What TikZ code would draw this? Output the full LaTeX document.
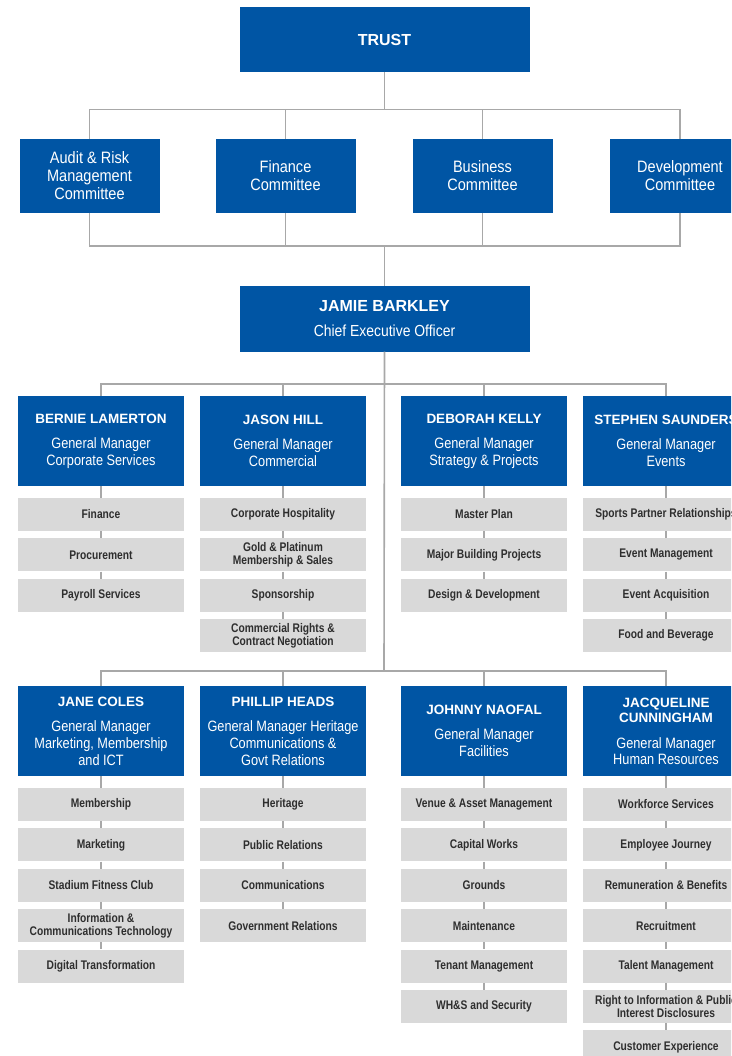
\documentclass[tikz,border=0pt]{standalone}
\usepackage{fontspec}
\setmainfont{Liberation Sans}
\newfontfamily\commfam{Liberation Sans}[FakeStretch=0.88]
\newfontfamily\titlefam{Liberation Sans}[FakeStretch=0.85]
\newfontfamily\ceofam{Liberation Sans}[FakeStretch=0.87]
\newfontfamily\grayfam{Liberation Sans}[FakeStretch=0.82]
\definecolor{tblue}{HTML}{0055A4}
\definecolor{tgray}{HTML}{D9D9D9}
\definecolor{linegray}{HTML}{A8A8A8}
\definecolor{graytext}{HTML}{2E2E2E}
\newcommand\namef{\rmfamily\bfseries\fontsize{13.5}{15}\selectfont}
\newcommand\mychain[4]{%
  \foreach \itm [count=\i] in {#4} {%
    \node[graybox] (#1-\i) at (#2,{#3+40.4*(\i-1)}) {\itm};
    \ifnum\i=1
      \draw[conn] (#1.south) -- (#1-1.north);
    \else
      \pgfmathtruncatemacro\prv{\i-1}
      \draw[conn] (#1-\prv.south) -- (#1-\i.north);
    \fi
  }}
\begin{document}
\begin{tikzpicture}[x=1pt,y=-1pt,
  conn/.style={draw=linegray, line width=1.6pt},
  topbox/.style={fill=tblue, text=white, inner sep=0pt, align=center,
    minimum width=290pt, minimum height=65pt},
  commbox/.style={fill=tblue, text=white, inner sep=0pt, align=center,
    minimum width=140pt, minimum height=74pt,
    font=\commfam\fontsize{16.5}{18}\selectfont},
  mgrbox/.style={fill=tblue, text=white, inner sep=0pt, align=center,
    minimum width=166pt, minimum height=90pt,
    font=\titlefam\fontsize{15}{17}\selectfont},
  graybox/.style={fill=tgray, text=graytext, inner sep=0pt, align=center,
    minimum width=166pt, minimum height=33pt,
    font=\grayfam\bfseries\fontsize{12.5}{13.5}\selectfont}]
\useasboundingbox (0,0) rectangle (731,1056);
\fill[white] (0,0) rectangle (731,1056);
\clip (0,0) rectangle (731,1056);

% top
\node[topbox, font=\bfseries\fontsize{16}{18}\selectfont] (trust) at (384.5,39.5) {TRUST};
\node[commbox] (audit) at (89.5,176) {Audit \& Risk\\Management\\Committee};
\node[commbox] (finance) at (285.5,176) {Finance\\Committee};
\node[commbox] (business) at (482.5,176) {Business\\Committee};
\node[commbox] (develop) at (680,176) {Development\\Committee};
\coordinate (b1) at (384.5,109.5);
\coordinate (b2) at (384.5,246);
\draw[conn] (trust.south) -- (b1);
\foreach \c in {audit,finance,business,develop} {
  \draw[conn] (b1) -| (\c.north);
  \draw[conn] (\c.south) |- (b2);
}
\node[topbox, font=\ceofam\fontsize{16}{18}\selectfont] (ceo) at (384.5,319)
  {{\rmfamily\bfseries JAMIE BARKLEY}\\[7pt]Chief Executive Officer};
\draw[conn] (b2) -- (ceo.north);

% managers
\coordinate (m1) at (384,384);
\coordinate (m2) at (384,671);
\draw[conn] (ceo.south) -- (m2);

\node[mgrbox] (bernie) at (101,441) {{\namef BERNIE LAMERTON}\\[8pt]General Manager\\Corporate Services};
\node[mgrbox] (jason) at (283,441) {{\namef JASON HILL}\\[8pt]General Manager\\Commercial};
\node[mgrbox] (deborah) at (484,441) {{\namef DEBORAH KELLY}\\[8pt]General Manager\\Strategy \& Projects};
\node[mgrbox] (stephen) at (666,441) {{\namef STEPHEN SAUNDERS}\\[8pt]General Manager\\Events};
\foreach \c in {bernie,jason,deborah,stephen} \draw[conn] (m1) -| (\c.north);

\node[mgrbox] (jane) at (101,731) {{\namef JANE COLES}\\[8pt]General Manager\\Marketing, Membership\\and ICT};
\node[mgrbox] (phillip) at (283,731) {{\namef PHILLIP HEADS}\\[8pt]General Manager Heritage\\Communications \&\\Govt Relations};
\node[mgrbox] (johnny) at (484,731) {{\namef JOHNNY NAOFAL}\\[8pt]General Manager\\Facilities};
\node[mgrbox] (jacq) at (666,731) {{\namef JACQUELINE}\\[-2pt]{\namef CUNNINGHAM}\\[9pt]General Manager\\[-1pt]Human Resources};
\foreach \c in {jane,phillip,johnny,jacq} \draw[conn] (m2) -| (\c.north);

% sub units
\mychain{bernie}{101}{514.5}{Finance,Procurement,Payroll Services}
\mychain{jason}{283}{514.5}{Corporate Hospitality,{Gold \& Platinum\\Membership \& Sales},Sponsorship,{Commercial Rights \&\\Contract Negotiation}}
\mychain{deborah}{484}{514.5}{Master Plan,Major Building Projects,Design \& Development}
\mychain{stephen}{666}{514.5}{Sports Partner Relationships,Event Management,Event Acquisition,Food and Beverage}

\mychain{jane}{101}{804.5}{Membership,Marketing,Stadium Fitness Club,{Information \&\\Communications Technology},Digital Transformation}
\mychain{phillip}{283}{804.5}{Heritage,Public Relations,Communications,Government Relations}
\mychain{johnny}{484}{804.5}{Venue \& Asset Management,Capital Works,Grounds,Maintenance,Tenant Management,WH\&S and Security}
\mychain{jacq}{666}{804.5}{Workforce Services,Employee Journey,Remuneration \& Benefits,Recruitment,Talent Management,{Right to Information \& Public\\Interest Disclosures},Customer Experience}
\end{tikzpicture}
\end{document}
